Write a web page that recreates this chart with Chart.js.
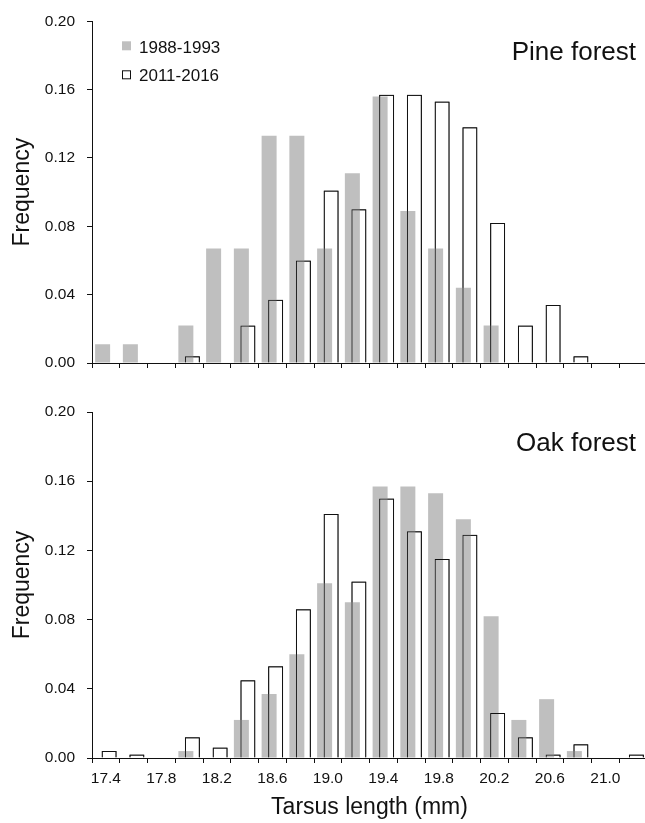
<!DOCTYPE html>
<html><head><meta charset="utf-8">
<script src="https://cdn.jsdelivr.net/npm/chart.js@4.4.1/dist/chart.umd.min.js"></script>
<style>
html,body{margin:0;padding:0;background:#fff;overflow:hidden;width:645px;height:823px;}
#top{position:absolute;left:0;top:0;width:647px;height:390px;}
#bot{position:absolute;left:0;top:390px;width:647px;height:433px;}
</style></head><body>
<div id="top"><canvas id="c1"></canvas></div>
<div id="bot"><canvas id="c2"></canvas></div>
<script>
// Tarsus length categories (mm)
const categories = ['17.4','17.6','17.8','18.0','18.2','18.4','18.6','18.8','19.0','19.2',
                    '19.4','19.6','19.8','20.0','20.2','20.4','20.6','20.8','21.0','21.2'];
// Only every other category carries a visible label
const tickLabels = ['17.4','','17.8','','18.2','','18.6','','19.0','',
                    '19.4','','19.8','','20.2','','20.6','','21.0',''];
const yTicks = [0.00, 0.04, 0.08, 0.12, 0.16, 0.20];
const seriesNames = ['1988-1993', '2011-2016'];
const panelTitles = ['Pine forest', 'Oak forest'];

// Pine forest
const pine1988 = [0.011,0.011,0,0.022,0.067,0.067,0.133,0.133,0.067,0.111,
                  0.156,0.089,0.067,0.044,0.022,0,0,0,0,0];
const pine2011 = [0,0,0,0.004,0,0.022,0.037,0.060,0.101,0.090,
                  0.157,0.157,0.153,0.138,0.082,0.022,0.034,0.004,0,0];
// Oak forest
const oak1988 = [0,0,0,0.004,0,0.022,0.037,0.060,0.101,0.090,
                 0.157,0.157,0.153,0.138,0.082,0.022,0.034,0.004,0,0];
const oak2011 = [0.004,0.002,0,0.012,0.006,0.045,0.053,0.086,0.141,0.102,
                 0.150,0.131,0.115,0.129,0.026,0.012,0.002,0.008,0,0.002];

const FONT = "'Liberation Sans', Arial, sans-serif";
const GRAY = '#bfbfbf';
const INK = '#111111';

// redraw the open bars on top of the grey bars, plus panel title and legend
const panelPlugin = {
  id: 'panelDeco',
  afterDatasetsDraw(chart) {
    const meta = chart.getDatasetMeta(1);
    const ctx = chart.ctx;
    ctx.save();
    meta.data.forEach(el => el.draw(ctx));
    ctx.restore();
  },
  afterDraw(chart, args, opts) {
    const ctx = chart.ctx;
    const ca = chart.chartArea;
    ctx.save();
    ctx.fillStyle = INK;
    ctx.font = '26px ' + FONT;
    ctx.textAlign = 'right';
    ctx.textBaseline = 'alphabetic';
    ctx.fillText(opts.title, 636, ca.top + 39);
    if (opts.legend) {
      ctx.font = '17px ' + FONT;
      ctx.textAlign = 'left';
      ctx.fillStyle = GRAY;
      ctx.fillRect(122, ca.top + 20, 9, 9);
      ctx.fillStyle = INK;
      ctx.fillText(seriesNames[0], 139, ca.top + 32);
      ctx.strokeStyle = INK;
      ctx.lineWidth = 1;
      ctx.strokeRect(122.5, ca.top + 49.5, 8, 8);
      ctx.fillText(seriesNames[1], 139, ca.top + 60);
    }
    ctx.restore();
  }
};

function makeChart(id, d1988, d2011, title, isBottom) {
  return new Chart(document.getElementById(id), {
    type: 'bar',
    data: {
      labels: categories,
      datasets: [
        { label: seriesNames[0], data: d1988, backgroundColor: GRAY, borderWidth: 0,
          categoryPercentage: 0.47, barPercentage: 2.3 },
        { label: seriesNames[1], data: d2011, backgroundColor: 'rgba(0,0,0,0)',
          borderColor: INK, borderWidth: 1,
          categoryPercentage: 0.47, barPercentage: 2.3 }
      ]
    },
    options: {
      responsive: true,
      maintainAspectRatio: false,
      animation: false,
      devicePixelRatio: 1,
      layout: { padding: { top: isBottom ? 22 : 17, left: 0, right: 0, bottom: 0 } },
      plugins: {
        legend: { display: false },
        tooltip: { enabled: false },
        panelDeco: { title: title, legend: !isBottom }
      },
      scales: {
        x: {
          type: 'category',
          offset: true,
          grid: { display: true, drawOnChartArea: false, drawTicks: true, tickLength: 5,
                  offset: true, color: INK, lineWidth: 1 },
          border: { display: true, color: INK, width: 1 },
          ticks: {
            display: isBottom,
            autoSkip: false, maxRotation: 0, minRotation: 0,
            padding: 6,
            color: INK,
            font: { family: FONT, size: 15.5 },
            callback: (v, i) => tickLabels[i]
          },
          title: {
            display: isBottom,
            text: 'Tarsus length (mm)',
            color: INK,
            font: { family: FONT, size: 23 },
            padding: { top: 0, bottom: 2 }
          },
          afterFit: s => { s.height = isBottom ? 65 : 27; }
        },
        y: {
          min: 0, max: 0.2,
          afterBuildTicks: s => { s.ticks = yTicks.map(v => ({ value: v })); },
          grid: { display: true, drawOnChartArea: false, drawTicks: true, tickLength: 5,
                  color: INK, lineWidth: 1 },
          border: { display: true, color: INK, width: 1 },
          ticks: {
            padding: 12,
            color: INK,
            font: { family: FONT, size: 15.5 },
            callback: v => Number(v).toFixed(2)
          },
          title: {
            display: true,
            text: 'Frequency',
            color: INK,
            font: { family: FONT, size: 23 },
            padding: { top: 9, bottom: 0 }
          },
          afterFit: s => { s.width = 92; }
        }
      }
    },
    plugins: [panelPlugin]
  });
}

makeChart('c1', pine1988, pine2011, panelTitles[0], false);
makeChart('c2', oak1988, oak2011, panelTitles[1], true);
</script>
</body></html>
